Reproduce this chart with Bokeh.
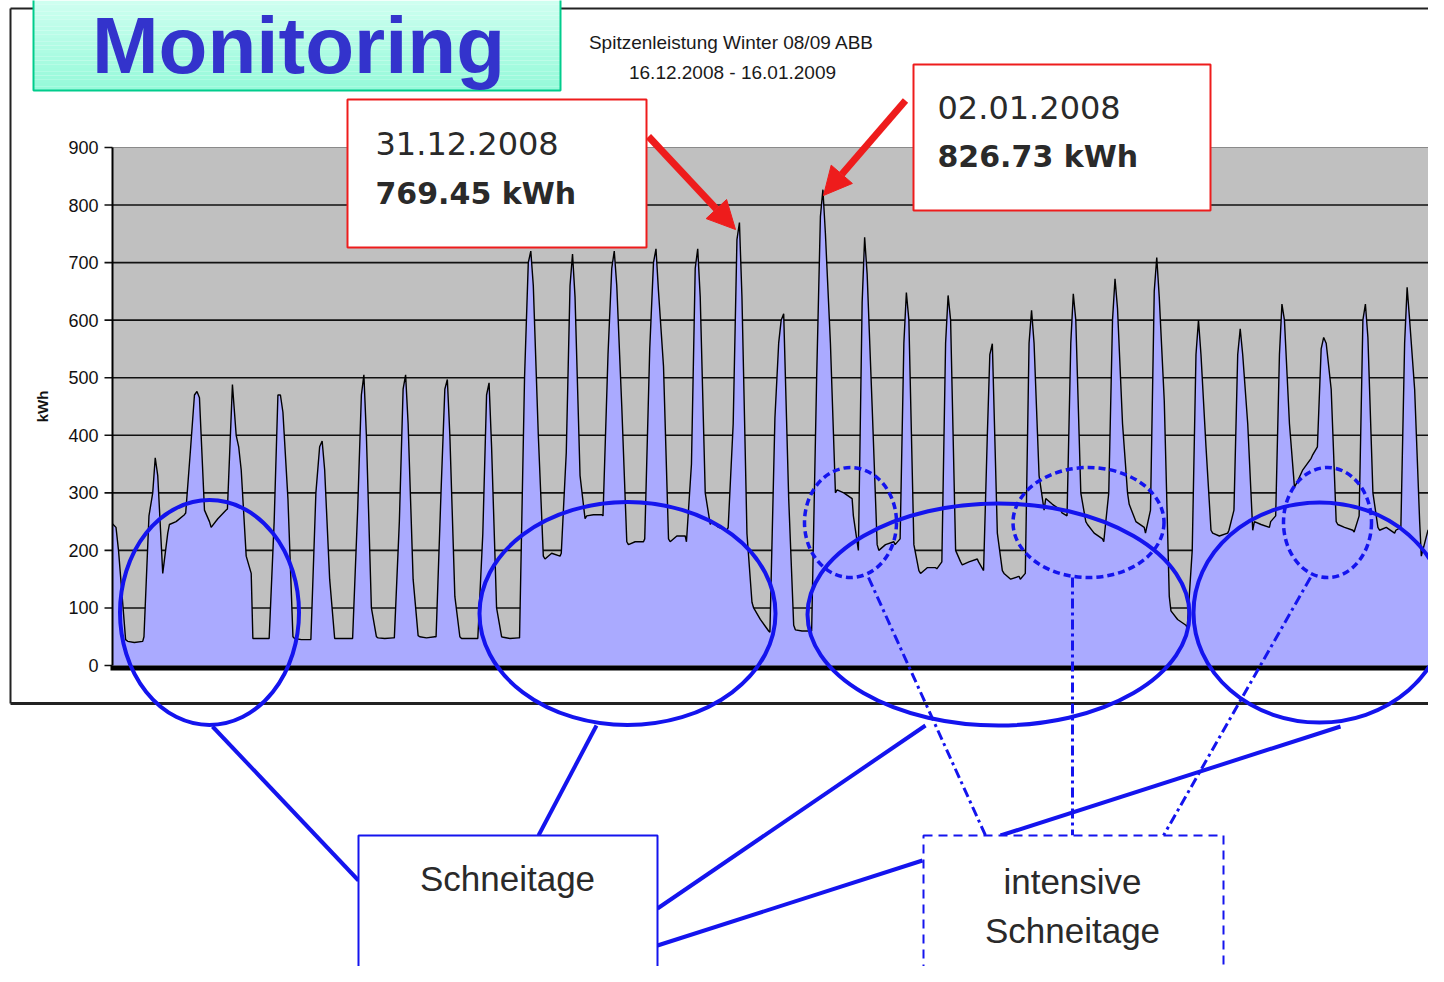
import numpy as np
from bokeh.plotting import figure
from bokeh.models import Arrow, NormalHead
from bokeh.embed import file_html
from bokeh.resources import INLINE
from bokeh.core.properties import value

# ---------------- data (kWh) ----------------
# x = days since first sample (16.12.2008); the daily peak of day k sits at x = k
PHASES = [-0.30, -0.27, -0.15, -0.06, 0.00, 0.06, 0.18, 0.30, 0.34, 0.50]
START_X = [-0.02, 0.06, 0.12, 0.29, 0.34, 0.50]
START_V = [246, 240, 200, 45, 42, 40]
DAY_PROFILES = [
    [42, 50, 260, 300, 361, 330, 160, 230, 245, 250],
    [262, 265, 380, 470, 476, 465, 270, 250, 240, 255],
    [270, 272, 488, 400, 380, 340, 190, 160, 47, 47],
    [47, 47, 250, 470, 470, 440, 290, 50, 47, 45],
    [45, 45, 300, 380, 390, 340, 150, 47, 47, 47],
    [47, 47, 269, 470, 505, 400, 100, 50, 48, 47],
    [48, 48, 250, 480, 505, 420, 150, 52, 50, 48],
    [50, 50, 304, 480, 497, 400, 120, 50, 47, 47],
    [47, 47, 229, 470, 491, 380, 100, 50, 49, 47],
    [48, 48, 500, 700, 720, 660, 400, 190, 185, 195],
    [190, 195, 370, 660, 715, 640, 330, 255, 260, 262],
    [262, 260, 540, 690, 720, 660, 450, 215, 210, 215],
    [215, 220, 550, 700, 724, 650, 520, 220, 215, 225],
    [225, 215, 350, 690, 724, 640, 300, 245, 250, 240],
    [235, 240, 420, 740, 769.45, 640, 229, 110, 100, 80],
    [60, 58, 430, 560, 600, 611, 290, 70, 62, 60],
    [60, 60, 500, 780, 826.73, 750, 560, 300, 305, 300],
    [290, 260, 200, 630, 744, 680, 450, 210, 200, 210],
    [215, 210, 220, 560, 648, 600, 210, 165, 160, 170],
    [170, 168, 180, 560, 643, 600, 200, 180, 175, 180],
    [185, 180, 165, 400, 540, 559, 230, 165, 160, 150],
    [155, 150, 160, 560, 617, 560, 330, 270, 290, 280],
    [270, 265, 260, 560, 646, 600, 300, 250, 245, 230],
    [220, 215, 300, 600, 672, 620, 420, 300, 280, 250],
    [240, 230, 270, 650, 709, 640, 460, 120, 95, 80],
    [70, 65, 200, 540, 600, 540, 380, 235, 230, 225],
    [230, 235, 270, 540, 585, 540, 420, 235, 250, 245],
    [240, 250, 260, 540, 628, 600, 420, 310, 315, 340],
    [360, 365, 380, 550, 570, 560, 480, 250, 245, 240],
    [235, 232, 260, 600, 628, 570, 300, 240, 235, 240],
    [230, 235, 240, 560, 657, 600, 480, 250, 190, 235],
]
END_X = [31.70, 31.80]
END_V = [245, 255]

Y_TICKS = [0, 100, 200, 300, 400, 500, 600, 700, 800, 900]
TITLE_LINES = ["Spitzenleistung Winter 08/09 ABB", "16.12.2008 - 16.01.2009"]
PEAK_DATES = ["31.12.2008", "02.01.2008"]
PEAK_VALUES = ["769.45 kWh", "826.73 kWh"]

# ---------------- layout helpers (picture pixels -> data units) ----------------
PX_PER_DAY = 41.73
X0_PX = 113.0
PX_PER_KWH = 518.0 / 900.0
Y0_PX = 665.0
FIG_W, FIG_H = 1428, 966


def X(px):
    return (px - X0_PX) / PX_PER_DAY


def Y(py):
    return (Y0_PX - py) / PX_PER_KWH


def W(wpx):
    return wpx / PX_PER_DAY


def H(hpx):
    return hpx / PX_PER_KWH


xs = list(START_X)
ys = list(START_V)
for k, prof in enumerate(DAY_PROFILES, start=1):
    for ph, v in zip(PHASES, prof):
        xs.append(k + ph)
        ys.append(v)
xs += END_X
ys += END_V

p = figure(width=FIG_W, height=FIG_H, x_range=(X(0), X(FIG_W)), y_range=(Y(FIG_H), Y(0)),
           output_backend="svg", toolbar_location=None,
           x_axis_location=None, y_axis_location=None, min_border=0)
p.grid.visible = False
p.outline_line_color = None
p.background_fill_color = "white"
p.border_fill_color = "white"

FONT = value("Liberation Sans")
BLUE = "#1414ee"
RED = "#ee1c1c"

# outer chart frame
p.multi_line(xs=[[X(10), X(10)], [X(10), X(1444)], [X(10), X(1444)]],
             ys=[[Y(8), Y(703)], [Y(8), Y(8)], [Y(703), Y(703)]],
             line_color="#222222", line_width=[2, 2, 3])

# plot area
p.quad(left=X(112), right=X(1440), bottom=0, top=900, fill_color="#c0c0c0", line_color=None)
p.segment(x0=X(104), y0=Y_TICKS[1:-1], x1=X(1440), y1=Y_TICKS[1:-1], line_color="#111111", line_width=1.6)
p.segment(x0=X(112), y0=[900], x1=X(1440), y1=[900], line_color="#8a8a8a", line_width=1)
p.segment(x0=X(104), y0=[900, 0], x1=X(112), y1=[900, 0], line_color="#111111", line_width=1.6)

# series
p.varea(x=xs, y1=0, y2=ys, fill_color="#aaaaff")
p.line(x=xs, y=ys, line_color="#000000", line_width=1.4)

# axes lines
p.segment(x0=X(1439), y0=0, x1=X(1439), y1=900, line_color="#333333", line_width=2)
p.segment(x0=X(112), y0=0, x1=X(112), y1=900, line_color="#000000", line_width=2)
p.segment(x0=X(110), y0=Y(667.5), x1=X(1440), y1=Y(667.5), line_color="#000000", line_width=5)

# tick labels
p.text(x=X(98), y=Y_TICKS, text=[str(t) for t in Y_TICKS], text_align="right",
       text_baseline="middle", text_font=FONT, text_font_size="18px", text_color="#111111")
p.text(x=[X(42)], y=[Y(406)], text=["kWh"], angle=np.pi / 2, text_align="center",
       text_baseline="middle", text_font=FONT, text_font_size="15px",
       text_font_style="bold", text_color="#111111")

# chart title
p.text(x=[X(731), X(732)], y=[Y(42), Y(72)], text=TITLE_LINES, text_align="center",
       text_baseline="middle", text_font=FONT, text_font_size="19px", text_color="#1a1a1a")

# "Monitoring" banner with a soft vertical gradient
bands = 24
tops = np.linspace(0, 90, bands + 1)
c0 = np.array([206, 255, 240])
c1 = np.array([150, 250, 218])
cols = []
for i in range(bands):
    t = i / (bands - 1)
    c = (c0 * (1 - t) + c1 * t).astype(int)
    cols.append("#%02x%02x%02x" % tuple(c))
p.quad(left=X(33), right=X(560), top=[Y(v) for v in tops[:-1]], bottom=[Y(v) for v in tops[1:]],
       fill_color=cols, line_color=None)
p.quad(left=X(33), right=X(560), top=Y(-2), bottom=Y(90), fill_color=None,
       line_color="#00cc8c", line_width=2)
p.text(x=[X(298)], y=[Y(45)], text=["Monitoring"], text_align="center", text_baseline="middle",
       text_font=FONT, text_font_size="80px", text_font_style="bold", text_color="#3333cc")

# peak call-out boxes
p.quad(left=[X(347), X(913)], right=[X(646), X(1210)], top=[Y(99), Y(64)], bottom=[Y(247), Y(210)],
       fill_color="white", line_color=RED, line_width=2)
p.text(x=[X(375), X(937)], y=[Y(143), Y(107)], text=PEAK_DATES, text_align="left",
       text_baseline="middle", text_font=value("DejaVu Sans"), text_font_size="32px",
       text_color="#2a2a2a")
p.text(x=[X(375), X(937)], y=[Y(193), Y(156)], text=PEAK_VALUES, text_align="left",
       text_baseline="middle", text_font=value("DejaVu Sans"), text_font_size="30px",
       text_font_style="bold", text_color="#2a2a2a")

p.add_layout(Arrow(end=NormalHead(size=28, fill_color=RED, line_color=RED),
                   x_start=X(648), y_start=Y(136), x_end=X(735), y_end=Y(229),
                   line_color=RED, line_width=7))
p.add_layout(Arrow(end=NormalHead(size=28, fill_color=RED, line_color=RED),
                   x_start=X(905), y_start=Y(100), x_end=X(823), y_end=Y(195),
                   line_color=RED, line_width=7))

# snow-making ellipses
E_CX = [209, 627, 998, 1319]
E_CY = [612, 613, 614, 612]
E_W = [179, 296, 382, 252]
E_H = [225, 223, 222, 220]
p.ellipse(x=[X(v) for v in E_CX], y=[Y(v) for v in E_CY], width=[W(v) for v in E_W],
          height=[H(v) for v in E_H], fill_color=None, line_color=BLUE, line_width=4)
D_CX = [850, 1088, 1327]
D_CY = [522, 522, 522]
D_W = [92, 151, 88]
D_H = [110, 110, 110]
p.ellipse(x=[X(v) for v in D_CX], y=[Y(v) for v in D_CY], width=[W(v) for v in D_W],
          height=[H(v) for v in D_H], fill_color=None, line_color=BLUE, line_width=3.5,
          line_dash="7 4")

# connector lines
SOLID = [((212, 726), (358, 880)), ((596, 725), (538, 835)), ((925, 725), (657, 908)),
         ((922, 860), (657, 945)), ((1340, 726), (1000, 835))]
p.segment(x0=[X(a[0]) for a, b in SOLID], y0=[Y(a[1]) for a, b in SOLID],
          x1=[X(b[0]) for a, b in SOLID], y1=[Y(b[1]) for a, b in SOLID],
          line_color=BLUE, line_width=4)
DASHDOT = [((868, 577), (985, 835)), ((1072, 577), (1072, 835)), ((1310, 577), (1163, 835))]
p.segment(x0=[X(a[0]) for a, b in DASHDOT], y0=[Y(a[1]) for a, b in DASHDOT],
          x1=[X(b[0]) for a, b in DASHDOT], y1=[Y(b[1]) for a, b in DASHDOT],
          line_color=BLUE, line_width=3, line_dash="10 4 3 4")

# label boxes
p.quad(left=X(358), right=X(657), top=Y(835), bottom=Y(980), fill_color="white",
       line_color=BLUE, line_width=2)
p.quad(left=X(923), right=X(1223), top=Y(835), bottom=Y(979), fill_color="white",
       line_color=BLUE, line_width=2, line_dash="9 6")
p.text(x=[X(507), X(1072), X(1072)], y=[Y(878), Y(881), Y(930)],
       text=["Schneitage", "intensive", "Schneitage"], text_align="center",
       text_baseline="middle", text_font=FONT, text_font_size="35px", text_color="#2a2a2a")

open("out.html", "w").write(file_html(p, INLINE))
